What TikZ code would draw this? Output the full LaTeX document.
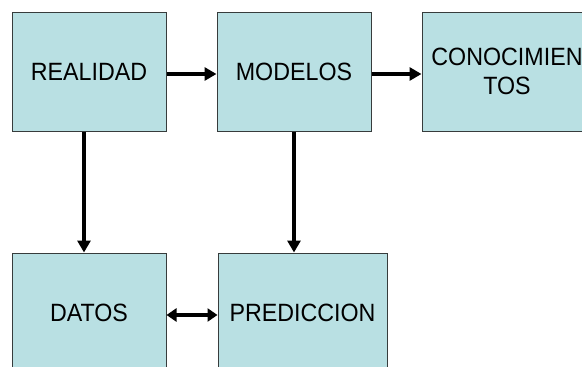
\documentclass[tikz,border=0pt]{standalone}
\usepackage{fontspec}
\setmainfont{Liberation Sans}
\newfontfamily\cajafont[FakeStretch=0.93]{Liberation Sans}
\usetikzlibrary{arrows.meta}
\definecolor{cajaazul}{RGB}{185,224,227}
\definecolor{bordegris}{RGB}{55,60,60}
\begin{document}
\begin{tikzpicture}[x=1pt,y=-1pt,
    caja/.style={draw=bordegris,line width=1pt,fill=cajaazul,inner sep=0pt,
                 minimum height=119pt,align=center,font=\cajafont\fontsize{25}{29}\selectfont},
    flecha/.style={line width=4.5pt,-{Triangle[length=12pt,width=13pt]}},
    doble/.style={line width=4pt,{Triangle[length=10pt,width=13pt]}-{Triangle[length=10pt,width=13pt]}}]
  \useasboundingbox (0,0) rectangle (582,367);
  \clip (0,0) rectangle (582,367);
  \node[caja,minimum width=154pt] (real)  at (89,71.5)  {REALIDAD};
  \node[caja,minimum width=154pt] (model) at (294,71.5) {MODELOS};
  \node[caja,minimum width=170pt] (conoc) at (507,71.5) {CONOCIMIEN\\TOS};
  \node[caja,minimum width=154pt,minimum height=120pt] (datos) at (89,313)    {DATOS};
  \node[caja,minimum width=169pt,minimum height=120pt] (pred)  at (302.5,313) {PREDICCION};
  \draw[flecha] ([yshift=-2.5pt]real.east)  -- ([yshift=-2.5pt]model.west);
  \draw[flecha] ([yshift=-2.5pt]model.east) -- ([yshift=-2.5pt]conoc.west);
  \draw[flecha] ([xshift=-5pt]real.south) -- ([xshift=-5pt]real.south |- datos.north);
  \draw[flecha] (model.south) -- (model.south |- pred.north);
  \draw[doble]  ([yshift=-2pt]datos.east) -- ([yshift=-2pt]pred.west);
\end{tikzpicture}
\end{document}
